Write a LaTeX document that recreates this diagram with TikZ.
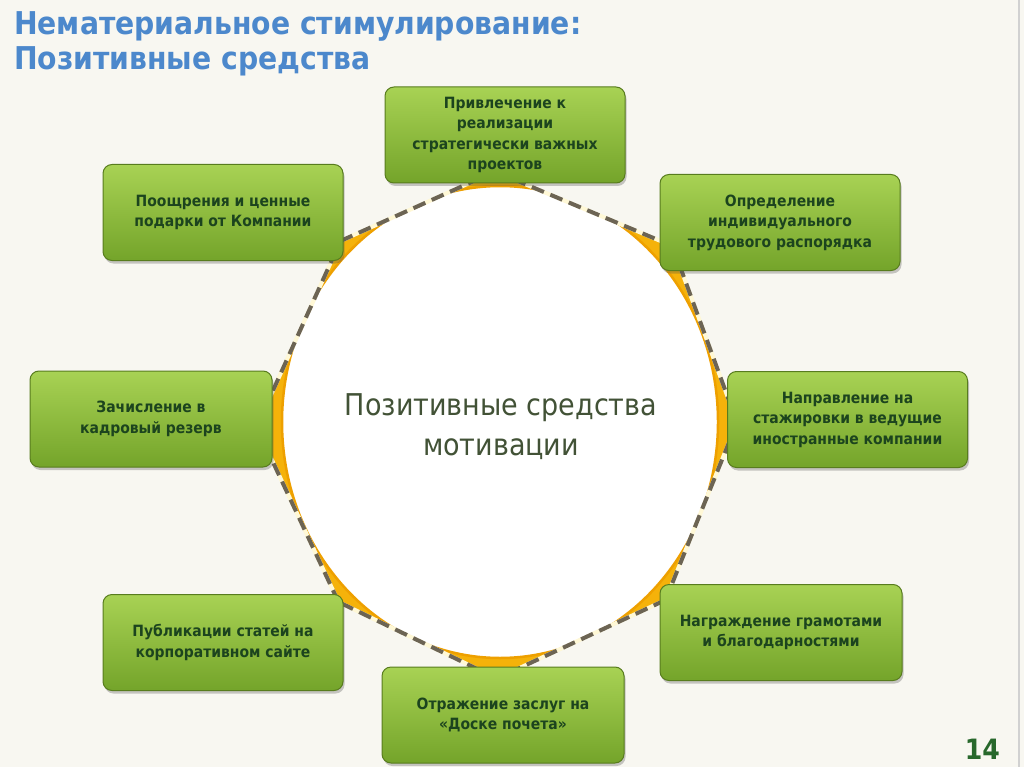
\documentclass[tikz,border=0pt]{standalone}
\usepackage{fontspec}
\setmainfont{DejaVu Sans}
\newfontfamily\condfont{DejaVu Sans Condensed}
\usetikzlibrary{shadows,calc,backgrounds}
\definecolor{bgc}{RGB}{248,247,241}
\definecolor{titleblue}{RGB}{76,136,204}
\definecolor{boxtop}{RGB}{168,210,84}
\definecolor{boxbot}{RGB}{116,164,42}
\definecolor{boxedge}{RGB}{88,124,30}
\definecolor{boxtext}{RGB}{28,68,30}
\definecolor{ringyellow}{RGB}{245,178,10}
\definecolor{ringdeep}{RGB}{238,160,0}
\definecolor{dashgray}{RGB}{108,100,84}
\definecolor{gapcream}{RGB}{255,248,214}
\definecolor{centertext}{RGB}{66,82,54}
\definecolor{pagegreen}{RGB}{40,104,44}
\pgfdeclarelayer{bglayer}
\pgfdeclarelayer{ringlayer}
\pgfsetlayers{bglayer,ringlayer,main}
\begin{document}
\begin{tikzpicture}[x=1pt,y=-1pt,
  box/.style={draw=boxedge, line width=1pt, rounded corners=9pt,
    top color=boxtop, bottom color=boxbot,
    minimum width=240pt, minimum height=96pt, align=center, inner sep=2pt,
    text=boxtext, font=\condfont\bfseries\fontsize{15.5}{20.5}\selectfont,
    drop shadow={shadow xshift=1.5pt, shadow yshift=-3pt, opacity=0.3, fill=black!70}},
  gapline/.style={draw=gapcream, line width=4pt},
  dashline/.style={draw=dashgray, line width=4pt, dash pattern=on 13pt off 7pt},
  titletext/.style={anchor=base west, inner sep=0pt, text=titleblue,
    font=\condfont\bfseries\fontsize{31.4}{36}\selectfont}
]
\useasboundingbox (0,0) rectangle (1024,767);
\begin{pgfonlayer}{bglayer}
  \fill[bgc] (0,0) rectangle (1024,767);
  \draw[black!18, line width=1.5pt] (1019,0) -- (1019,767);
\end{pgfonlayer}

% title
\node[titletext] (title1) at (14,35) {Нематериальное стимулирование:};
\node[titletext] (title2) at (14,70) {Позитивные средства};

% boxes
\node[box] (top) at (505,135) {Привлечение к\\реализации\\стратегически важных\\проектов};
\node[box] (tl)  at (223,212.5) {Поощрения и ценные\\подарки от Компании};
\node[box] (tr)  at (780,222.5) {Определение\\индивидуального\\трудового распорядка};
\node[box, minimum width=242pt] (l) at (151,419) {Зачисление в\\кадровый резерв};
\node[box] (r)   at (847.5,419.5) {Направление на\\стажировки в ведущие\\иностранные компании};
\node[box] (bl)  at (223,642.5) {Публикации статей на\\корпоративном сайте};
\node[box, minimum width=242pt] (br) at (781,632.5) {Награждение грамотами\\и благодарностями};
\node[box, minimum width=242pt] (b) at (503,715) {Отражение заслуг на\\«Доске почета»};

% hidden ring vertices under the boxes
\coordinate (vTL) at ($(tl.south east)+(-3,-20)$);
\coordinate (vT)  at ($(top.south)+(-10,-12)$);
\coordinate (vTR) at ($(tr.south west)+(13,-25)$);
\coordinate (vR)  at ($(r.west)+(10,3)$);
\coordinate (vBR) at ($(br.north west)+(6,16)$);
\coordinate (vB)  at ($(b.north)+(-6,12)$);
\coordinate (vBL) at ($(bl.north east)+(-5,8)$);
\coordinate (vL)  at ($(l.east)+(-16,8)$);

\begin{pgfonlayer}{ringlayer}
  \fill[ringyellow] (vT)--(vTR)--(vR)--(vBR)--(vB)--(vBL)--(vL)--(vTL)--cycle;
  \begin{scope}
    \clip (vT)--(vTR)--(vR)--(vBR)--(vB)--(vBL)--(vL)--(vTL)--cycle;
    \fill[white] (500,422) ellipse [x radius=218, y radius=236];
    \draw[ringdeep, line width=2.5pt] (500,422) ellipse [x radius=218, y radius=236];
  \end{scope}
  \draw[gapline] (vTL)--(vT); \draw[dashline] (vTL)--(vT);
  \draw[gapline] (vT)--(vTR); \draw[dashline] (vT)--(vTR);
  \draw[gapline] (vTR)--(vR); \draw[dashline] (vTR)--(vR);
  \draw[gapline] (vR)--(vBR); \draw[dashline] (vR)--(vBR);
  \draw[gapline] (vBR)--(vB); \draw[dashline] (vBR)--(vB);
  \draw[gapline] (vB)--(vBL); \draw[dashline] (vB)--(vBL);
  \draw[gapline] (vBL)--(vL); \draw[dashline] (vBL)--(vL);
  \draw[gapline] (vL)--(vTL); \draw[dashline] (vL)--(vTL);
\end{pgfonlayer}

% centre text
\node[align=center, text=centertext, inner sep=0pt,
  font=\condfont\fontsize{30}{40}\selectfont] (ctext) at (501,427)
  {Позитивные средства\\мотивации};

% page number
\node[anchor=base east, inner sep=0pt, text=pagegreen,
  font=\condfont\bfseries\fontsize{28}{28}\selectfont] (pnum) at (1000,759) {14};
\end{tikzpicture}
\end{document}
